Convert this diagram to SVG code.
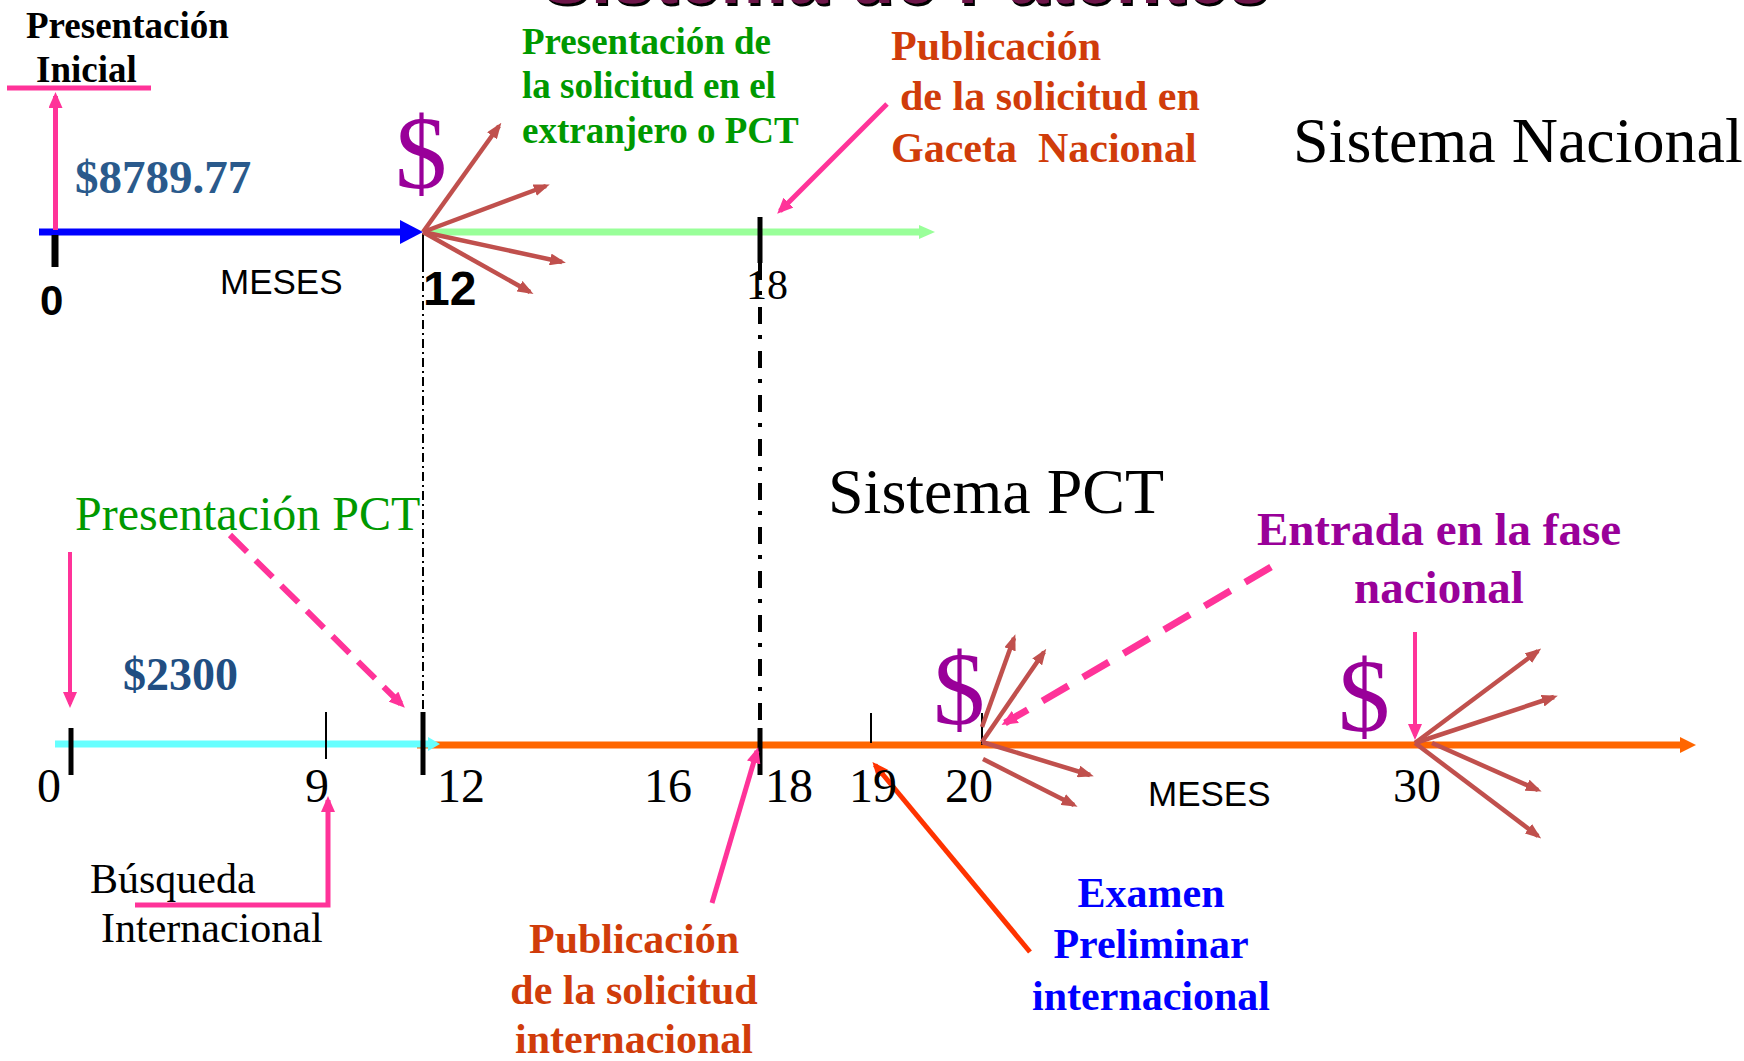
<svg xmlns="http://www.w3.org/2000/svg" width="1744" height="1061" viewBox="0 0 1744 1061">
<defs>
<style>
.tr{font-family:"Liberation Serif","Times New Roman",serif}
.ar{font-family:"Liberation Sans",Arial,sans-serif}
.b{font-weight:bold}
.pink{stroke:#ff3399;fill:none}
.red{stroke:#c0504d;stroke-width:4.5;fill:none}
.tick{stroke:#000}
</style>
<marker id="mr" viewBox="0 0 16 12" refX="12" refY="6" markerWidth="16" markerHeight="12" orient="auto" markerUnits="userSpaceOnUse"><path d="M0,0 L16,6 L0,12 z" fill="#c0504d" stroke="none"/></marker>
<marker id="mp" viewBox="0 0 16 14" refX="12" refY="7" markerWidth="16" markerHeight="14" orient="auto" markerUnits="userSpaceOnUse"><path d="M0,0 L16,7 L0,14 z" fill="#ff3399" stroke="none"/></marker>
<marker id="mo" viewBox="0 0 16 14" refX="12" refY="7" markerWidth="16" markerHeight="14" orient="auto" markerUnits="userSpaceOnUse"><path d="M0,0 L16,7 L0,14 z" fill="#ff3300" stroke="none"/></marker>
<filter id="sh" x="-5%" y="-50%" width="110%" height="200%"><feDropShadow dx="2" dy="3" stdDeviation="0.5" flood-color="#000"/></filter>
</defs>
<rect width="1744" height="1061" fill="#fff"/>

<g id="title"><text class="ar b" x="541" y="3" font-size="74" fill="#6d1448" filter="url(#sh)" textLength="728">Sistema de Patentes</text></g>

<g id="connectors">
  <!-- top timeline -->
  <line x1="39" y1="232" x2="402" y2="232" stroke="#0000ff" stroke-width="7"/>
  <polygon points="400,220 423,232 400,244" fill="#0000ff"/>
  <line x1="423" y1="232" x2="922" y2="232" stroke="#99ff99" stroke-width="7"/>
  <polygon points="919,225 935,232 919,239" fill="#99ff99"/>
  <line class="tick" x1="55" y1="235" x2="55" y2="267" stroke-width="7"/>
  <line class="tick" x1="423" y1="233" x2="423" y2="263" stroke-width="2"/>
  <line class="tick" x1="760" y1="217" x2="760" y2="263" stroke-width="5"/>
  <line class="tick" x1="423" y1="263" x2="423" y2="712" stroke-width="2" stroke-dasharray="9 4 2 4"/>
  <line class="tick" x1="760" y1="263" x2="760" y2="728" stroke-width="4" stroke-dasharray="17 11 4 12"/>
  <!-- Presentación inicial -->
  <line class="pink" x1="7" y1="88" x2="151" y2="88" stroke-width="5"/>
  <line class="pink" x1="55.5" y1="230" x2="55.5" y2="96" stroke-width="5" marker-end="url(#mp)"/>
  <!-- fan at 12 -->
  <line class="red" x1="423" y1="232" x2="499" y2="126" marker-end="url(#mr)"/>
  <line class="red" x1="423" y1="232" x2="546" y2="186" marker-end="url(#mr)"/>
  <line class="red" x1="423" y1="232" x2="562" y2="262" marker-end="url(#mr)"/>
  <line class="red" x1="423" y1="232" x2="530" y2="292" marker-end="url(#mr)"/>
  <!-- publicación gaceta -->
  <line class="pink" x1="887" y1="104" x2="780" y2="211" stroke-width="5" marker-end="url(#mp)"/>

  <!-- bottom timeline -->
  <line x1="417" y1="745" x2="1682" y2="745" stroke="#ff6600" stroke-width="7"/>
  <polygon points="1680,737 1696,745 1680,753" fill="#ff6600"/>
  <line x1="55" y1="744" x2="430" y2="744" stroke="#66ffff" stroke-width="7"/>
  <polygon points="428,737 440,744 428,751" fill="#66ffff"/>
  <line class="tick" x1="71" y1="728" x2="71" y2="775" stroke-width="5"/>
  <line class="tick" x1="326" y1="712" x2="326" y2="759" stroke-width="2"/>
  <line class="tick" x1="423" y1="712" x2="423" y2="775" stroke-width="5"/>
  <line class="tick" x1="760" y1="728" x2="760" y2="775" stroke-width="5"/>
  <line class="tick" x1="871" y1="713" x2="871" y2="743" stroke-width="2"/>
  <line class="tick" x1="982" y1="713" x2="982" y2="745" stroke-width="2"/>
  <!-- PCT arrows -->
  <line class="pink" x1="70" y1="552" x2="70" y2="704" stroke-width="4" marker-end="url(#mp)"/>
  <line class="pink" x1="230" y1="535" x2="402" y2="705" stroke-width="6" stroke-dasharray="24 12" marker-end="url(#mp)"/>
  <polyline class="pink" points="135,905 328,905 328,800" stroke-width="5" marker-end="url(#mp)"/>
  <line class="pink" x1="712" y1="903" x2="757" y2="751" stroke-width="5" marker-end="url(#mp)"/>
  <line x1="1030" y1="952" x2="875" y2="765" stroke="#ff3300" stroke-width="5" marker-end="url(#mo)"/>
  <line class="pink" x1="1271" y1="567" x2="1005" y2="723" stroke-width="7" stroke-dasharray="30 17" marker-end="url(#mp)"/>
  <line class="pink" x1="1415" y1="632" x2="1415" y2="736" stroke-width="4" marker-end="url(#mp)"/>
  <!-- fan at 20 -->
  <line class="red" x1="982" y1="727" x2="1014" y2="638" marker-end="url(#mr)"/>
  <line class="red" x1="982" y1="742" x2="1044" y2="652" marker-end="url(#mr)"/>
  <line class="red" x1="982" y1="742" x2="1090" y2="775" marker-end="url(#mr)"/>
  <line class="red" x1="983" y1="759" x2="1074" y2="805" marker-end="url(#mr)"/>
  <!-- fan at 30 -->
  <line class="red" x1="1415" y1="743" x2="1538" y2="651" marker-end="url(#mr)"/>
  <line class="red" x1="1415" y1="743" x2="1554" y2="697" marker-end="url(#mr)"/>
  <line class="red" x1="1432" y1="743" x2="1538" y2="790" marker-end="url(#mr)"/>
  <line class="red" x1="1415" y1="743" x2="1538" y2="836" marker-end="url(#mr)"/>
</g>

<g id="presentacion-inicial"><text class="tr b" font-size="37" fill="#000"><tspan x="26" y="38">Presentación</tspan><tspan x="36" y="82">Inicial</tspan></text></g>
<g id="costo-nacional"><text class="tr b" x="75" y="193" font-size="47" fill="#2a5a8c">$8789.77</text></g>
<g id="dolar-12"><text class="tr" x="395" y="188" font-size="104" fill="#990099">$</text></g>
<g id="top-labels">
  <text class="ar b" x="40" y="315" font-size="42">0</text>
  <text class="ar" x="220" y="294" font-size="35">MESES</text>
  <text class="ar b" x="423" y="305" font-size="48">12</text>
  <text class="tr" x="746" y="299" font-size="42">18</text>
</g>
<g id="presentacion-extranjero"><text class="tr b" font-size="37" fill="#009900"><tspan x="522" y="54">Presentación de</tspan><tspan x="522" y="98">la solicitud en el</tspan><tspan x="522" y="143">extranjero o PCT</tspan></text></g>
<g id="publicacion-gaceta"><text class="tr b" font-size="42" fill="#d03c0a" xml:space="preserve"><tspan x="891" y="60">Publicación</tspan><tspan x="900" y="110">de la solicitud en</tspan><tspan x="891" y="162">Gaceta  Nacional</tspan></text></g>
<g id="sistema-nacional"><text class="tr" x="1293" y="162" font-size="64">Sistema Nacional</text></g>

<g id="sistema-pct"><text class="tr" x="828" y="513" font-size="64">Sistema PCT</text></g>
<g id="presentacion-pct"><text class="tr" x="75" y="530" font-size="48" fill="#009900">Presentación PCT</text></g>
<g id="costo-pct"><text class="tr b" x="123" y="690" font-size="46" fill="#214e82">$2300</text></g>
<g id="bottom-labels">
  <text class="tr" font-size="48"><tspan x="37" y="802">0</tspan><tspan x="305" y="802">9</tspan><tspan x="437" y="802">12</tspan><tspan x="644" y="802">16</tspan><tspan x="765" y="802">18</tspan><tspan x="849" y="802">19</tspan><tspan x="945" y="802">20</tspan><tspan x="1393" y="802">30</tspan></text>
  <text class="ar" x="1148" y="806" font-size="35">MESES</text>
</g>
<g id="dolar-20"><text class="tr" x="933" y="724" font-size="104" fill="#990099">$</text></g>
<g id="dolar-30"><text class="tr" x="1338" y="731" font-size="104" fill="#990099">$</text></g>
<g id="entrada-fase-nacional"><text class="tr b" font-size="47" fill="#990099" text-anchor="middle"><tspan x="1439" y="545">Entrada en la fase</tspan><tspan x="1439" y="603">nacional</tspan></text></g>
<g id="busqueda"><text class="tr" font-size="42"><tspan x="90" y="893">Búsqueda</tspan><tspan x="101" y="942">Internacional</tspan></text></g>
<g id="publicacion-internacional"><text class="tr b" font-size="42" fill="#d03c0a" text-anchor="middle"><tspan x="634" y="953">Publicación</tspan><tspan x="634" y="1004">de la solicitud</tspan><tspan x="634" y="1053">internacional</tspan></text></g>
<g id="examen-preliminar"><text class="tr b" font-size="42" fill="#0000ff" text-anchor="middle"><tspan x="1151" y="907">Examen</tspan><tspan x="1151" y="958">Preliminar</tspan><tspan x="1151" y="1010">internacional</tspan></text></g>
</svg>
